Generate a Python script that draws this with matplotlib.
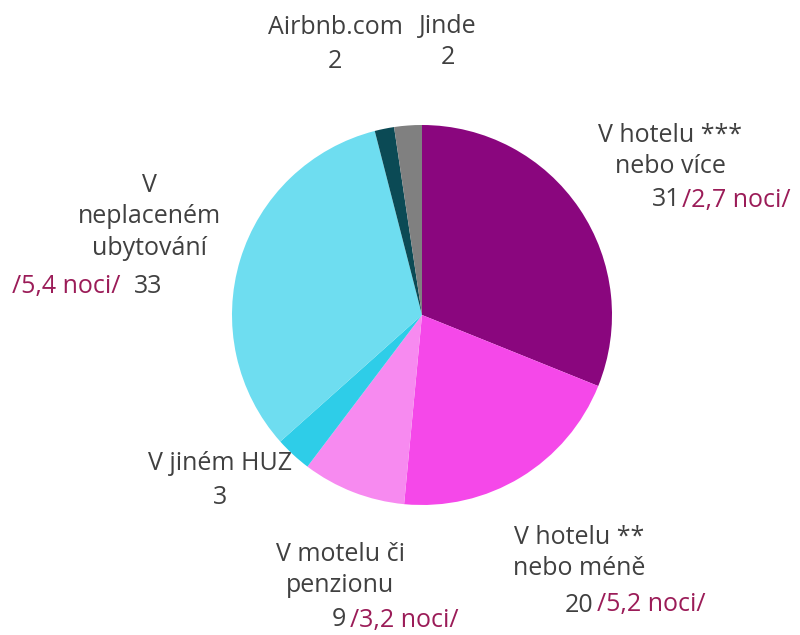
import matplotlib
matplotlib.use('Agg')
import matplotlib.pyplot as plt

# data (clockwise from 12 o'clock)
categories = ['V hotelu ***\nnebo více', 'V hotelu **\nnebo méně', 'V motelu či\npenzionu',
              'V jiném HUZ', 'V\nneplaceném\nubytování', 'Airbnb.com', 'Jinde']
values = [31, 20, 9, 3, 33, 2, 2]                    # shown (rounded) values
shares = [31.1, 20.4, 8.8, 3.1, 32.6, 1.65, 2.35]   # slice sizes as drawn
nights = ['/2,7 noci/', '/5,2 noci/', '/3,2 noci/', None, '/5,4 noci/', None, None]
colors = ['#8A067E', '#F548E9', '#F78AF0', '#2ECDE8', '#6EDDF0', '#0B4A55', '#808080']

TEXT = '#404040'
NOCI = '#9B1C58'
FS = 18
plt.rcParams['font.family'] = ['Open Sans', 'DejaVu Sans']

W, H = 800, 635
fig = plt.figure(figsize=(W / 100, H / 100), dpi=100)

# pie axes: centre (422, 315) px, radius 190 px
cx, cy, r = 422, 315, 190
ax = fig.add_axes([(cx - r) / W, (H - cy - r) / H, 2 * r / W, 2 * r / H])
ax.pie(shares, colors=colors, startangle=90, counterclock=False,
       radius=1, wedgeprops=dict(linewidth=0))
ax.set_xlim(-1, 1)
ax.set_ylim(-1, 1)
ax.set_aspect('equal')
ax.axis('off')


def put(x, y, s, color=TEXT, ha='center'):
    fig.text(x / W, 1 - y / H, s, color=color, fontsize=FS, ha=ha, va='center',
             linespacing=1.32)


# label layout in pixels: (name centre x, name centre y, value-line y, split x, value first?)
label_pos = [
    (670, 151, 200, 681, True),
    (579, 553, 605, 593, True),
    (340, 570, 620, 346, True),
    (220, 463, 498, 226, True),
    (149, 217, 287, 126, False),
    (335, 28, 62, 343, True),
    (448, 26, 58, 455, True),
]

for name, val, noc, (nx, ny, vy, sx, val_first) in zip(categories, values, nights, label_pos):
    put(nx, ny, name)
    if noc is None:
        put(nx, vy, str(val))
    elif val_first:
        put(sx, vy, str(val), ha='right')
        put(sx + (1 if val >= 30 else 4), vy, noc, color=NOCI, ha='left')
    else:
        put(sx - 6, vy, noc, color=NOCI, ha='right')
        put(sx + 8, vy, str(val), ha='left')

fig.savefig('out.png', dpi=100)
